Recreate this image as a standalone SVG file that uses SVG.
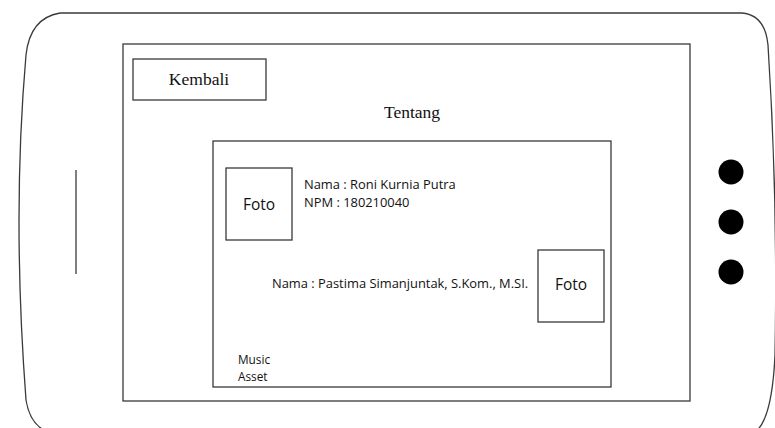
<svg xmlns="http://www.w3.org/2000/svg" width="775" height="428" viewBox="0 0 775 428">
<style>
.ln{fill:none;stroke:#3a3a3a;stroke-width:1.3}
.bx{fill:#fff;stroke:#3a3a3a;stroke-width:1.3}
.serif{font-family:"Liberation Serif",serif;font-size:17.5px;fill:#111}
.sans{font-family:"Open Sans","Liberation Sans",sans-serif;font-size:12.9px;fill:#111}
.small{font-family:"Open Sans","Liberation Sans",sans-serif;font-size:11.8px;fill:#111}
.foto{font-family:"Open Sans","Liberation Sans",sans-serif;font-size:15.5px;fill:#111}
</style>
<rect width="775" height="428" fill="#fff"/>
<g id="phone">
<path class="ln" d="M60 13 L742 13 Q765 15 768 45 Q778 200 775 355 Q772 420 755 432"/>
<path class="ln" d="M60 13 Q30 18 26 55 Q12 215 26 400 Q30 425 48 432"/>
<line class="ln" x1="76" y1="170" x2="76" y2="274"/>
<circle cx="731" cy="172" r="12.5" fill="#000"/>
<circle cx="731" cy="222" r="12.5" fill="#000"/>
<circle cx="731" cy="272" r="12.5" fill="#000"/>
</g>
<g id="screen">
<rect class="bx" x="123" y="44" width="567" height="357"/>
</g>
<g id="kembali">
<rect class="bx" x="133" y="59" width="133" height="41"/>
<text class="serif" x="199" y="85" text-anchor="middle">Kembali</text>
</g>
<g id="tentang">
<text class="serif" x="412" y="118" text-anchor="middle">Tentang</text>
</g>
<g id="content">
<rect class="bx" x="213" y="141" width="398" height="246"/>
</g>
<g id="foto1">
<rect class="bx" x="226" y="168" width="66" height="72"/>
<text class="foto" x="259" y="210" text-anchor="middle">Foto</text>
</g>
<g id="info1">
<text class="sans" x="304" y="189">Nama : Roni Kurnia Putra</text>
<text class="sans" x="304" y="207">NPM : 180210040</text>
</g>
<g id="foto2">
<rect class="bx" x="538" y="250" width="66" height="72"/>
<text class="foto" x="571" y="290" text-anchor="middle">Foto</text>
</g>
<g id="info2">
<text class="sans" x="272" y="288">Nama : Pastima Simanjuntak, S.Kom., M.SI.</text>
</g>
<g id="music">
<text class="small" x="238" y="364">Music</text>
<text class="small" x="238" y="381">Asset</text>
</g>
</svg>
